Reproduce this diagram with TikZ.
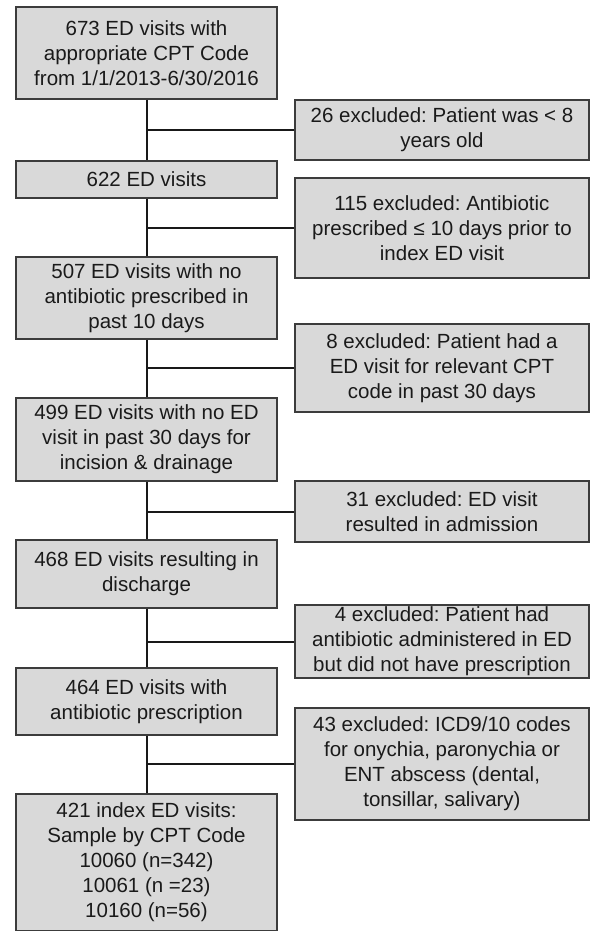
\documentclass[tikz,border=0pt]{standalone}
\usepackage{fontspec}
\setmainfont{Liberation Sans}
\usepackage{tikz}
\usetikzlibrary{positioning}

\definecolor{boxgray}{HTML}{D9D9D9}
\definecolor{edgegray}{HTML}{3C3C3C}
\definecolor{inkgray}{HTML}{1A1A1A}

\begin{document}
\frenchspacing
\begin{tikzpicture}[
    x=1pt, y=-1pt,
    font=\fontsize{20.5}{25}\selectfont,
    mainbox/.style={draw=edgegray, fill=boxgray, line width=1.2pt, text=inkgray,
        align=center, inner sep=0pt, minimum width=261pt},
    exclbox/.style={draw=edgegray, fill=boxgray, line width=1.2pt, text=inkgray,
        align=center, inner sep=0pt, minimum width=294pt},
    flow/.style={draw=black!90, line width=2pt}
]
    \useasboundingbox (0,0) rectangle (590,931);

    % Main column (included visits)
    \node [mainbox, minimum height=92pt]  (b1) at (146.5, 53)    {673 ED visits with\\appropriate CPT Code\\from 1/1/2013-6/30/2016};
    \node [mainbox, minimum height=37pt]  (b2) at (146.5, 179.5) {622 ED visits};
    \node [mainbox, minimum height=82pt]  (b3) at (146.5, 298)   {507 ED visits with no\\antibiotic prescribed in\\past 10 days};
    \node [mainbox, minimum height=83pt]  (b4) at (146.5, 439.5) {499 ED visits with no ED\\visit in past 30 days for\\incision \& drainage};
    \node [mainbox, minimum height=68pt]  (b5) at (146.5, 574)   {468 ED visits resulting in\\discharge};
    \node [mainbox, minimum height=67pt]  (b6) at (146.5, 701.5) {464 ED visits with\\antibiotic prescription};
    \node [mainbox, minimum height=137pt] (b7) at (146.5, 862.5) {421 index ED visits:\\Sample by CPT Code\\10060 (n=342)\\10061 (n =23)\\10160 (n=56)};

    % Side column (exclusions)
    \node [exclbox, minimum height=60pt]  (r1) at (442, 130)   {26 excluded: Patient was < 8\\years old};
    \node [exclbox, minimum height=100pt] (r2) at (442, 228)   {115 excluded: Antibiotic\\prescribed ≤ 10 days prior to\\index ED visit};
    \node [exclbox, minimum height=88pt]  (r3) at (442, 368)   {8 excluded: Patient had a\\ED visit for relevant CPT\\code in past 30 days};
    \node [exclbox, minimum height=61pt]  (r4) at (442, 511.5) {31 excluded: ED visit\\resulted in admission};
    \node [exclbox, minimum height=73pt]  (r5) at (442, 641.5) {4 excluded: Patient had\\antibiotic administered in ED\\but did not have prescription};
    \node [exclbox, minimum height=112pt] (r6) at (442, 764)   {43 excluded: ICD9/10 codes\\for onychia, paronychia or\\ENT abscess (dental,\\tonsillar, salivary)};

    % Vertical flow and side branches
    \foreach \a/\b in {1/2, 2/3, 3/4, 4/5, 5/6, 6/7} {
        \draw [flow] (b\a.south) -- (b\b.north);
        \draw [flow] (r\a.west) -- (r\a.west -| b\a.south);
    }

\end{tikzpicture}
\end{document}
